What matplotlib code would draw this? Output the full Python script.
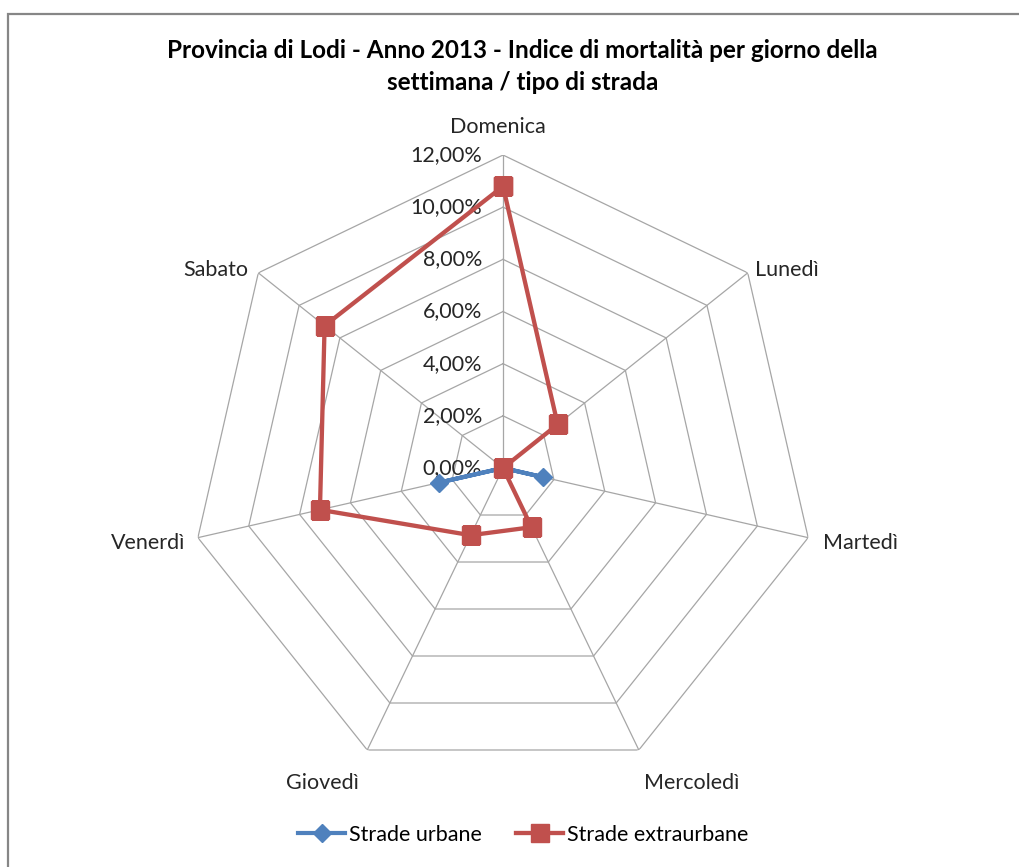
import numpy as np
import matplotlib
matplotlib.use('Agg')
import matplotlib.pyplot as plt
from matplotlib.patches import Rectangle

plt.rcParams['font.family'] = ['Lato', 'DejaVu Sans']

giorni = ['Domenica', 'Lunedì', 'Martedì', 'Mercoledì', 'Giovedì', 'Venerdì', 'Sabato']
urbane = [0.0, 0.0, 1.59, 0.0, 0.0, 2.50, 0.0]
extraurbane = [10.80, 2.68, 0.0, 2.52, 2.86, 7.20, 8.75]
livelli = [0, 2, 4, 6, 8, 10, 12]
etichette_r = ['0,00%', '2,00%', '4,00%', '6,00%', '8,00%', '10,00%', '12,00%']

blu = '#4F81BD'
rosso = '#C0504D'
griglia = '#A6A6A6'

fig = plt.figure(figsize=(10.19, 8.67), dpi=100)
ax = fig.add_axes([0.1865, 0.0992, 0.6143, 0.722], projection='polar')
ax.set_theta_zero_location('N')
ax.set_theta_direction(-1)
ax.set_ylim(0, 12)

n = len(giorni)
theta = np.arange(n) * 2 * np.pi / n
theta_c = np.append(theta, theta[0])

# heptagon grid
for lv in livelli[1:]:
    ax.plot(theta_c, [lv] * (n + 1), color=griglia, lw=0.9, zorder=1)
for t in theta:
    ax.plot([t, t], [0, 12], color=griglia, lw=0.9, zorder=1)

ax.grid(False)
ax.spines['polar'].set_visible(False)
ax.set_xticks([])
ax.set_yticks([])

# radial labels
for lv, lab in zip(livelli, etichette_r):
    ax.annotate(lab, xy=(0, lv), xytext=(-15, 0), textcoords='offset points',
                ha='right', va='center', fontsize=15.5, color='#262626')

# category labels
offsets = [(-4, 20, 'center'), (5, 2, 'left'), (11, -4, 'left'), (4, -24, 'left'),
           (-6, -24, 'right'), (-9, -4, 'right'), (-7, 2, 'right')]
for t, g, (dx, dy, ha) in zip(theta, giorni, offsets):
    ax.annotate(g, xy=(t, 12), xytext=(dx, dy), textcoords='offset points',
                ha=ha, va='center', fontsize=15.5, color='#262626')

ax.plot(theta_c, urbane + urbane[:1], color=blu, lw=3.0, marker='D', ms=9,
        label='Strade urbane', zorder=3)
ax.plot(theta_c, extraurbane + extraurbane[:1], color=rosso, lw=3.1, marker='s', ms=13,
        label='Strade extraurbane', zorder=4)

fig.text(0.5125, 0.9233, 'Provincia di Lodi - Anno 2013 - Indice di mortalità per giorno della\nsettimana / tipo di strada',
         ha='center', va='center', fontsize=17.5, fontweight='bold', linespacing=1.45, color='black')

fig.legend(loc='center', bbox_to_anchor=(523 / 1019, 32 / 867), ncol=2, frameon=False,
           fontsize=15.5, handlelength=2.2, handletextpad=0.15, columnspacing=1.6)

fig.patches.append(Rectangle((8 / 1019, -0.1), 2, 1.1 - 14 / 867, transform=fig.transFigure,
                             fill=False, edgecolor='#868686', lw=1.6))

fig.savefig('out.png', dpi=100, facecolor='white')
